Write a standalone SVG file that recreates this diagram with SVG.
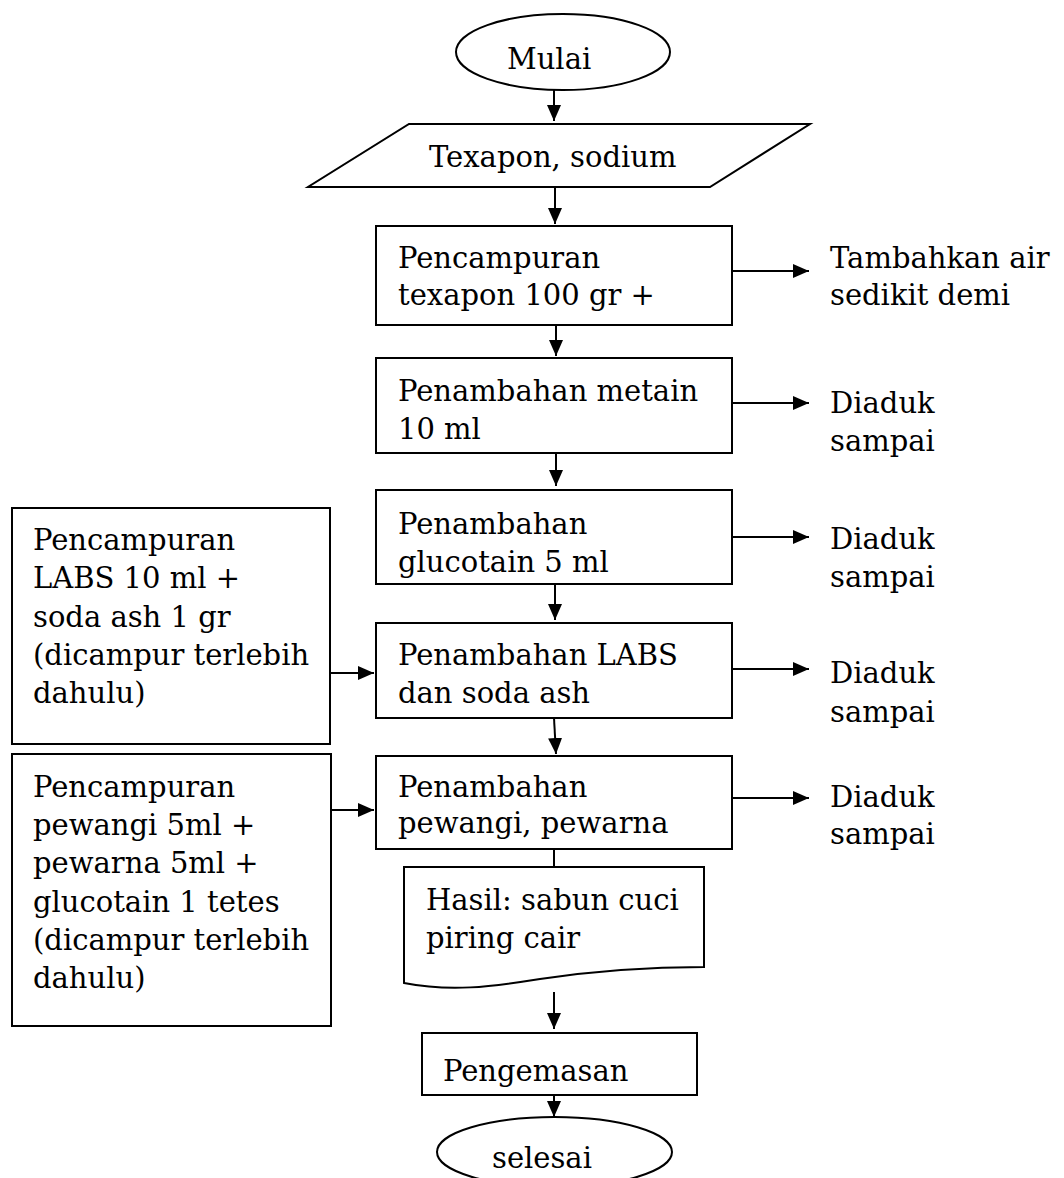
<svg xmlns="http://www.w3.org/2000/svg" width="1064" height="1178" viewBox="0 0 1064 1178">
<style>
.s{fill:#fff;stroke:#000;stroke-width:2}
.t{font-family:"DejaVu Serif","Liberation Serif",serif;font-size:29px;fill:#000}
.c{fill:none;stroke:#000;stroke-width:2}
</style>
<defs>
<marker id="ah" markerUnits="userSpaceOnUse" markerWidth="16" markerHeight="14" refX="16" refY="7" orient="auto">
<path d="M0,0 L16,7 L0,14 z" fill="#000"/>
</marker>
</defs>
<rect width="1064" height="1178" fill="#fff"/>
<g id="connectors">
<line class="c" x1="554" y1="90" x2="554" y2="121" marker-end="url(#ah)"/>
<line class="c" x1="555" y1="187" x2="555" y2="224" marker-end="url(#ah)"/>
<line class="c" x1="556" y1="325" x2="556" y2="356" marker-end="url(#ah)"/>
<line class="c" x1="556" y1="453" x2="556" y2="486" marker-end="url(#ah)"/>
<line class="c" x1="555" y1="584" x2="555" y2="620" marker-end="url(#ah)"/>
<line class="c" x1="554" y1="718" x2="556" y2="754" marker-end="url(#ah)"/>
<line class="c" x1="554" y1="849" x2="554" y2="867"/>
<line class="c" x1="554" y1="992" x2="554" y2="1029" marker-end="url(#ah)"/>
<line class="c" x1="554" y1="1095" x2="554" y2="1117" marker-end="url(#ah)"/>
<line class="c" x1="732" y1="271" x2="809" y2="271" marker-end="url(#ah)"/>
<line class="c" x1="732" y1="403" x2="809" y2="403" marker-end="url(#ah)"/>
<line class="c" x1="732" y1="537" x2="809" y2="537" marker-end="url(#ah)"/>
<line class="c" x1="732" y1="669" x2="809" y2="669" marker-end="url(#ah)"/>
<line class="c" x1="732" y1="798" x2="809" y2="798" marker-end="url(#ah)"/>
<line class="c" x1="330" y1="673" x2="374" y2="673" marker-end="url(#ah)"/>
<line class="c" x1="331" y1="810" x2="374" y2="810" marker-end="url(#ah)"/>
</g>
<g id="mulai">
<ellipse class="s" cx="563" cy="52" rx="107" ry="38"/>
<text class="t" x="507" y="69">Mulai</text>
</g>
<g id="input">
<polygon class="s" points="409,124 810,124 710,187 308,187"/>
<text class="t" x="429" y="167">Texapon, sodium</text>
</g>
<g id="box1">
<rect class="s" x="376" y="226" width="356" height="99"/>
<text class="t" x="398" y="268">Pencampuran</text>
<text class="t" x="398" y="305">texapon 100 gr +</text>
</g>
<g id="note1">
<text class="t" x="830" y="268">Tambahkan air</text>
<text class="t" x="830" y="305">sedikit demi</text>
</g>
<g id="box2">
<rect class="s" x="376" y="358" width="356" height="95"/>
<text class="t" x="398" y="401">Penambahan metain</text>
<text class="t" x="398" y="439">10 ml</text>
</g>
<g id="note2">
<text class="t" x="830" y="413">Diaduk</text>
<text class="t" x="830" y="451">sampai</text>
</g>
<g id="box3">
<rect class="s" x="376" y="490" width="356" height="94"/>
<text class="t" x="398" y="534">Penambahan</text>
<text class="t" x="398" y="572">glucotain 5 ml</text>
</g>
<g id="note3">
<text class="t" x="830" y="549">Diaduk</text>
<text class="t" x="830" y="587">sampai</text>
</g>
<g id="box4">
<rect class="s" x="376" y="623" width="356" height="95"/>
<text class="t" x="398" y="665">Penambahan LABS</text>
<text class="t" x="398" y="703">dan soda ash</text>
</g>
<g id="note4">
<text class="t" x="830" y="683">Diaduk</text>
<text class="t" x="830" y="722">sampai</text>
</g>
<g id="box5">
<rect class="s" x="376" y="756" width="356" height="93"/>
<text class="t" x="398" y="797">Penambahan</text>
<text class="t" x="398" y="833">pewangi, pewarna</text>
</g>
<g id="note5">
<text class="t" x="830" y="807">Diaduk</text>
<text class="t" x="830" y="844">sampai</text>
</g>
<g id="left1">
<rect class="s" x="12" y="508" width="318" height="236"/>
<text class="t" x="33" y="550">Pencampuran</text>
<text class="t" x="33" y="588">LABS 10 ml +</text>
<text class="t" x="33" y="627">soda ash 1 gr</text>
<text class="t" x="33" y="665">(dicampur terlebih</text>
<text class="t" x="33" y="703">dahulu)</text>
</g>
<g id="left2">
<rect class="s" x="12" y="754" width="319" height="272"/>
<text class="t" x="33" y="797">Pencampuran</text>
<text class="t" x="33" y="835">pewangi 5ml +</text>
<text class="t" x="33" y="873">pewarna 5ml +</text>
<text class="t" x="33" y="912">glucotain 1 tetes</text>
<text class="t" x="33" y="950">(dicampur terlebih</text>
<text class="t" x="33" y="988">dahulu)</text>
</g>
<g id="hasil">
<path class="s" d="M404,867 L704,867 L704,967 C660,967 600,970 540,979 C490,987 450,992 404,983 Z"/>
<text class="t" x="426" y="910">Hasil: sabun cuci</text>
<text class="t" x="426" y="948">piring cair</text>
</g>
<g id="pengemasan">
<rect class="s" x="422" y="1033" width="275" height="62"/>
<text class="t" x="443" y="1081">Pengemasan</text>
</g>
<g id="selesai">
<ellipse class="s" cx="554.5" cy="1152" rx="117.5" ry="35"/>
<text class="t" x="492" y="1168">selesai</text>
</g>
</svg>
